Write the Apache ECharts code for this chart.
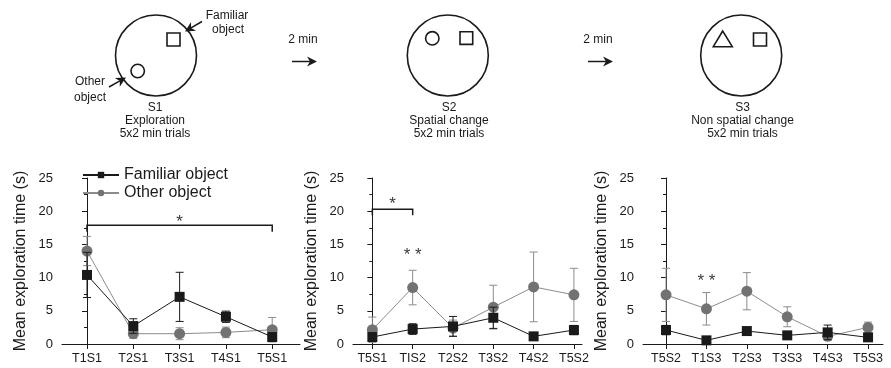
<!DOCTYPE html>
<html>
<head>
<meta charset="utf-8">
<script src="https://cdn.jsdelivr.net/npm/echarts@6/dist/echarts.min.js"></script>
<style>
html, body { margin: 0; padding: 0; background: #fff; }
#main { width: 891px; height: 368px; }
</style>
</head>
<body>
<div id="main"></div>
<script>
// panel 1: S1 exploration
var cats1 = ['T1S1', 'T2S1', 'T3S1', 'T4S1', 'T5S1'];
var fam1 = [10.4, 2.7, 7.1, 4.1, 1.05];
var famErr1 = [3.4, 1.1, 3.7, 0.85, 0.5];
var oth1 = [14.0, 1.55, 1.55, 1.75, 2.15];
var othErr1 = [2.2, 0.7, 0.9, 0.8, 1.85];

// panel 2: S2 spatial change
var cats2 = ['T5S1', 'TIS2', 'T2S2', 'T3S2', 'T4S2', 'T5S2'];
var fam2 = [1.05, 2.25, 2.65, 3.95, 1.15, 2.1];
var famErr2 = [0.5, 0.8, 1.5, 1.6, 0.5, 0.7];
var oth2 = [2.15, 8.5, 2.4, 5.55, 8.6, 7.4];
var othErr2 = [1.9, 2.6, 1.2, 3.3, 5.25, 4.0];

// panel 3: S3 non spatial change
var cats3 = ['T5S2', 'T1S3', 'T2S3', 'T3S3', 'T4S3', 'T5S3'];
var fam3 = [2.1, 0.55, 1.95, 1.3, 1.75, 1.0];
var famErr3 = [0.7, 0.2, 0.3, 0.3, 1.1, 0.3];
var oth3 = [7.4, 5.3, 7.95, 4.1, 1.15, 2.5];
var othErr3 = [4.0, 2.45, 2.8, 1.5, 0.5, 0.8];

// significance marks: [panel, x from, x to, y top, y end]
var brackets = [[0, 0, 4, 17.9, 16.9], [1, 0, 1, 20.3, 19.4]];
// [panel, x, y, text]
var stars = [[0, 2, 18.4, '*'], [1, 0.5, 21.0, '*'], [1, 1, 13.3, '* *'], [2, 1, 9.4, '* *']];

var FONT = '"Liberation Sans", Arial, sans-serif';
var BLACK = '#1a1a1a';
var GREY = '#727272';
var GREY_LINE = '#8c8c8c';

var chart = echarts.init(document.getElementById('main'), null, { renderer: 'canvas' });

var grids = [
    { left: 62, top: 178, width: 238, height: 166 },
    { left: 353, top: 178, width: 229, height: 166 },
    { left: 643, top: 178, width: 240, height: 166 }
];
var xRanges = [[-0.54, 4.6], [-0.48, 5.2], [-0.57, 5.37]];
var allCats = [cats1, cats2, cats3];

function xAxisFor(idx) {
    var cats = allCats[idx];
    var vals = cats.map(function (c, i) { return i; });
    return {
        type: 'value', gridIndex: idx, min: xRanges[idx][0], max: xRanges[idx][1],
        splitLine: { show: false },
        axisLine: { show: true, onZero: false, lineStyle: { color: BLACK, width: 1 } },
        axisTick: { show: true, customValues: vals, length: 5, lineStyle: { color: BLACK } },
        axisLabel: {
            customValues: vals, color: BLACK, fontSize: 12.5, fontFamily: FONT, margin: 8,
            formatter: function (v) { return cats[Math.round(v)]; }
        }
    };
}

function yAxisFor(idx) {
    return {
        type: 'value', gridIndex: idx, min: 0, max: 25, interval: 5,
        name: 'Mean exploration time (s)', nameLocation: 'middle', nameGap: 33, nameRotate: 90,
        nameTextStyle: { fontSize: 16, color: BLACK, fontFamily: FONT },
        splitLine: { show: false },
        axisLine: { show: true, lineStyle: { color: BLACK } },
        axisTick: { show: true, length: 5, lineStyle: { color: BLACK } },
        minorTick: { show: true, splitNumber: 2, length: 3, lineStyle: { color: BLACK } },
        axisLabel: { fontSize: 13, color: BLACK, fontFamily: FONT, margin: 9 }
    };
}

function lineSeries(idx, name, values, symbol, size, color, lineColor, z) {
    return {
        type: 'line', name: name, xAxisIndex: idx, yAxisIndex: idx,
        data: values.map(function (v, i) { return [i, v]; }),
        symbol: symbol, symbolSize: size,
        itemStyle: { color: color },
        lineStyle: { color: lineColor, width: 1 },
        z: z, animation: false
    };
}

function errSeries(idx, means, errs, color, z) {
    return {
        type: 'custom', xAxisIndex: idx, yAxisIndex: idx, silent: true, z: z,
        encode: { x: 0, y: [1, 2] },
        data: means.map(function (m, i) { return [i, m - errs[i], m + errs[i]]; }),
        renderItem: function (params, api) {
            var lo = api.coord([api.value(0), api.value(1)]);
            var hi = api.coord([api.value(0), api.value(2)]);
            var w = 4;
            var st = { stroke: color, lineWidth: 1 };
            return {
                type: 'group', children: [
                    { type: 'line', shape: { x1: hi[0], y1: hi[1], x2: lo[0], y2: lo[1] }, style: st },
                    { type: 'line', shape: { x1: hi[0] - w, y1: hi[1], x2: hi[0] + w, y2: hi[1] }, style: st },
                    { type: 'line', shape: { x1: lo[0] - w, y1: lo[1], x2: lo[0] + w, y2: lo[1] }, style: st }
                ]
            };
        },
        animation: false
    };
}

var series = [];
var famAll = [[fam1, famErr1], [fam2, famErr2], [fam3, famErr3]];
var othAll = [[oth1, othErr1], [oth2, othErr2], [oth3, othErr3]];
for (var p = 0; p < 3; p++) {
    series.push(errSeries(p, othAll[p][0], othAll[p][1], GREY_LINE, 1));
    series.push(lineSeries(p, 'Other object', othAll[p][0], 'circle', 11, GREY, GREY_LINE, 2));
    series.push(errSeries(p, famAll[p][0], famAll[p][1], BLACK, 3));
    series.push(lineSeries(p, 'Familiar object', famAll[p][0], 'rect', 10, BLACK, BLACK, 4));
}

brackets.forEach(function (b) {
    series.push({
        type: 'custom', xAxisIndex: b[0], yAxisIndex: b[0], silent: true, z: 5,
        data: [[b[1], b[2], b[3], b[4]]],
        renderItem: function (params, api) {
            var a = api.coord([api.value(0), api.value(2)]);
            var c = api.coord([api.value(1), api.value(2)]);
            var e = api.coord([api.value(0), api.value(3)]);
            return {
                type: 'polyline',
                shape: { points: [[a[0], e[1]], a, c, [c[0], e[1]]] },
                style: { stroke: BLACK, lineWidth: 1.5, fill: null }
            };
        },
        animation: false
    });
});

stars.forEach(function (s) {
    series.push({
        type: 'custom', xAxisIndex: s[0], yAxisIndex: s[0], silent: true, z: 5,
        data: [[s[1], s[2]]],
        renderItem: function (params, api) {
            var pt = api.coord([api.value(0), api.value(1)]);
            return {
                type: 'text', x: pt[0], y: pt[1],
                style: { text: s[3], fill: '#3a3a3a', font: '17px ' + FONT, textAlign: 'center', textVerticalAlign: 'middle' }
            };
        },
        animation: false
    });
});

// diagram helpers
function arrow(x1, y1, x2, y2) {
    var dx = x2 - x1, dy = y2 - y1;
    var len = Math.sqrt(dx * dx + dy * dy);
    var ux = dx / len, uy = dy / len;
    var hl = 10, hw = 5;
    var bx = x2 - ux * hl, by = y2 - uy * hl;
    var nx = x2 - ux * hl * 0.7, ny = y2 - uy * hl * 0.7;
    return [
        { type: 'line', shape: { x1: x1, y1: y1, x2: nx, y2: ny }, style: { stroke: BLACK, lineWidth: 1.5 } },
        { type: 'polygon', shape: { points: [[x2, y2], [bx - uy * hw, by + ux * hw], [nx, ny], [bx + uy * hw, by - ux * hw]] }, style: { fill: BLACK } }
    ];
}
function txt(x, y, t, size) {
    return { type: 'text', x: x, y: y, style: { text: t, font: (size || 12) + 'px ' + FONT, fill: BLACK, textAlign: 'center', textVerticalAlign: 'middle' } };
}
function ring(cx, cy, r, w) {
    return { type: 'circle', shape: { cx: cx, cy: cy, r: r }, style: { stroke: BLACK, fill: null, lineWidth: w } };
}
function box(x, y, s) {
    return { type: 'rect', shape: { x: x, y: y, width: s, height: s }, style: { stroke: BLACK, fill: null, lineWidth: 1.6 } };
}

var graphics = [
    ring(156, 55.5, 40.5, 1.6), box(167, 33, 13), ring(137.7, 71, 6.7, 1.6),
    txt(227, 16, 'Familiar'), txt(228, 30, 'object'),
    txt(90, 82, 'Other'), txt(90, 98, 'object'),
    txt(155, 108, 'S1'), txt(155, 121, 'Exploration'), txt(155, 134, '5x2 min trials'),
    txt(303, 40, '2 min'),
    ring(447.8, 55.5, 40.5, 1.6), ring(432.3, 38.3, 6.7, 1.6), box(460, 31.7, 12.7),
    txt(449, 108, 'S2'), txt(449, 121, 'Spatial change'), txt(449, 134, '5x2 min trials'),
    txt(598, 40, '2 min'),
    ring(741.2, 55.5, 40.5, 1.6),
    { type: 'polygon', shape: { points: [[722.7, 31], [713.3, 46.7], [732.3, 46.7]] }, style: { stroke: BLACK, fill: null, lineWidth: 1.6 } },
    box(753.5, 33, 13),
    txt(742.5, 108, 'S3'), txt(742.5, 121, 'Non spatial change'), txt(742.5, 134, '5x2 min trials')
];
graphics = graphics.concat(arrow(202, 21.5, 185, 31.5), arrow(109, 87, 126, 77.5),
    arrow(292, 61.5, 317, 61.5), arrow(588, 61.5, 613, 61.5));

var option = {
    animation: false,
    backgroundColor: '#fff',
    grid: grids,
    xAxis: [xAxisFor(0), xAxisFor(1), xAxisFor(2)],
    yAxis: [yAxisFor(0), yAxisFor(1), yAxisFor(2)],
    legend: {
        data: ['Familiar object', 'Other object'],
        orient: 'vertical', left: 82, top: 167, padding: 0,
        itemWidth: 36, itemHeight: 8, itemGap: 2,
        selectedMode: false,
        textStyle: { fontSize: 16, color: BLACK, fontFamily: FONT }
    },
    graphic: graphics,
    series: series
};

chart.setOption(option);
window.addEventListener('resize', chart.resize);
</script>
</body>
</html>
